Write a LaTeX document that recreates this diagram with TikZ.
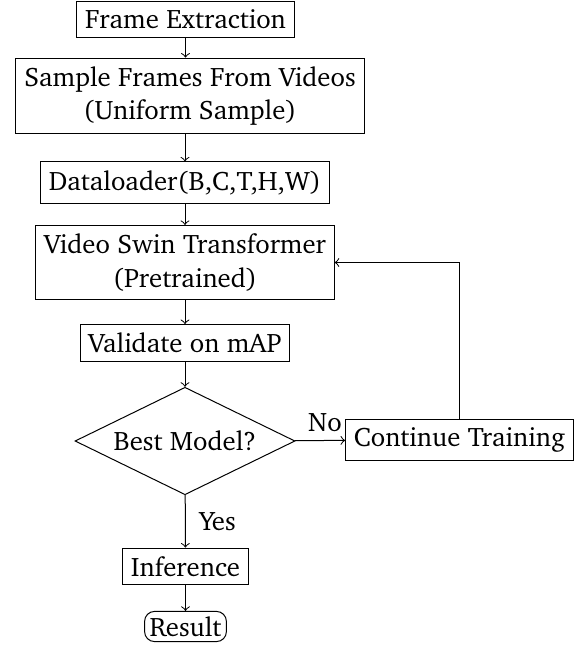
\documentclass[tikz,border=0pt]{standalone}
\usepackage[T1]{fontenc}
\usepackage{charter}
\usetikzlibrary{shapes.geometric}
\begin{document}
\begin{tikzpicture}[x=0.4pt,y=-0.4pt,
  box/.style={draw,rectangle,align=center,font=\fontsize{10.7}{13.5}\selectfont},
  dec/.style={draw,diamond,aspect=2.05,minimum width=88pt,minimum height=43pt,inner sep=0pt,font=\fontsize{10.7}{13}\selectfont},
  term/.style={draw,rectangle,rounded corners=4pt,inner sep=2pt,font=\fontsize{10.7}{13}\selectfont},
  arr/.style={->,thin},
  lab/.style={font=\fontsize{10.7}{13}\selectfont}]
\useasboundingbox (0,0) rectangle (580,648);
\node[box] (fe) at (185.5,19.5) {Frame Extraction};
\node[box] (sf) at (190,96) {Sample Frames From Videos\\(Uniform Sample)};
\node[box] (dl) at (185,182.5) {Dataloader(B,C,T,H,W)};
\node[box] (vs) at (185,262.5) {Video Swin Transformer\\(Pretrained)};
\node[box] (va) at (185,343) {Validate on mAP};
\node[dec] (bm) at (185,441) {Best Model?};
\node[box] (ct) at (459.5,440) {Continue Training};
\node[box] (inf) at (185.5,566.5) {Inference};
\node[term] (res) at (185.5,626.5) {Result};
\draw[arr] (fe) -- (fe.south |- sf.north);
\draw[arr] (sf.south -| dl.north) -- (dl);
\draw[arr] (dl) -- (vs);
\draw[arr] (vs) -- (va);
\draw[arr] (va) -- (bm);
\draw[arr] (bm) -- node[lab,above,pos=0.6] {No} (ct);
\draw[arr] (bm) -- node[lab,right,pos=0.5,xshift=2pt] {Yes} (inf);
\draw[arr] (inf) -- (res);
\draw[arr] (ct.north) |- (vs.east);
\end{tikzpicture}
\end{document}
